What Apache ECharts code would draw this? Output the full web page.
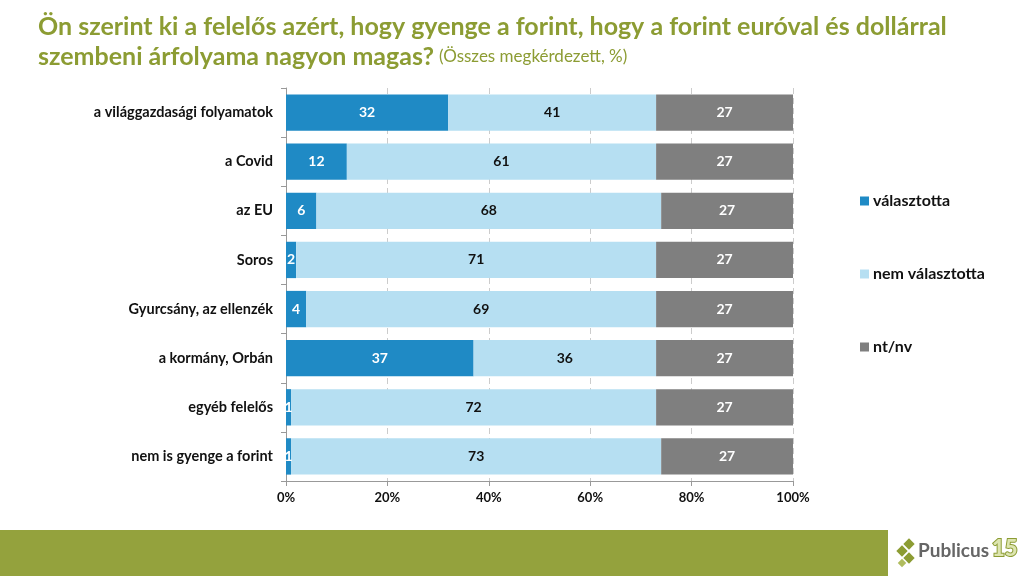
<!DOCTYPE html>
<html><head><meta charset="utf-8">
<script src="https://cdn.jsdelivr.net/npm/echarts@6/dist/echarts.min.js"></script>
<style>html,body{margin:0;padding:0;background:#fff}#c{width:1024px;height:576px}</style>
</head><body><div id="c"></div>
<script>
const categories = ['a világgazdasági folyamatok','a Covid','az EU','Soros','Gyurcsány, az ellenzék','a kormány, Orbán','egyéb felelős','nem is gyenge a forint'];
const valasztotta = [32,12,6,2,4,37,1,1];
const nemValasztotta = [41,61,68,71,69,36,72,73];
const ntnv = [27,27,27,27,27,27,27,27];
const xTicks = [0,20,40,60,80,100];
const seriesNames = ['választotta','nem választotta','nt/nv'];

const font = 'Lato, "Open Sans", sans-serif';
const chart = echarts.init(document.getElementById('c'));
function mk(name, data, color, labelColor){
  return {name, type:'bar', stack:'t', data, barCategoryGap:'26%',
    itemStyle:{color},
    label:{show:true, position:'inside', color:labelColor, fontWeight:'bold', fontSize:14, fontFamily:font},
    emphasis:{disabled:true}};
}
chart.setOption({
  animation:false,
  title:{left:33, top:7,
    text:'{a|Ön szerint ki a felelős azért, hogy gyenge a forint, hogy a forint euróval és dollárral}\n{a|szembeni árfolyama nagyon magas?} {b|(Összes megkérdezett, %)}',
    textStyle:{rich:{
      a:{fontSize:25, fontWeight:'bold', color:'#8C9C33', fontFamily:font, lineHeight:30},
      b:{fontSize:17, fontWeight:'normal', color:'#8C9C33', fontFamily:font, lineHeight:30}
    }}},
  legend:{orient:'vertical', left:855, top:188, itemGap:57, itemWidth:9, itemHeight:9,
    icon:'rect', data:seriesNames,
    textStyle:{fontSize:16, fontWeight:'bold', color:'#111', fontFamily:font, padding:[0,0,0,-1]}},
  grid:{left:286, right:231, top:88, bottom:95},
  xAxis:{type:'value', min:0, max:100, interval:20,
    axisLabel:{formatter:v=>xTicks.includes(v)?v+'%':'', fontWeight:'bold', fontSize:13, color:'#111', fontFamily:font, margin:10},
    axisLine:{show:true, lineStyle:{color:'#999'}},
    axisTick:{show:true, lineStyle:{color:'#999'}},
    splitLine:{show:true, lineStyle:{color:'#ccc', type:[6,4]}}},
  yAxis:{type:'category', data:categories, inverse:true,
    axisLabel:{fontWeight:'bold', fontSize:14.5, color:'#111', fontFamily:font, margin:13},
    axisLine:{show:true, lineStyle:{color:'#999'}},
    axisTick:{show:true, lineStyle:{color:'#999'}}},
  series:[
    mk(seriesNames[0], valasztotta, '#1F8AC5', '#fff'),
    mk(seriesNames[1], nemValasztotta, '#B6DFF2', '#111'),
    mk(seriesNames[2], ntnv, '#7F7F7F', '#fff')
  ],
  graphic:[
    {type:'rect', shape:{x:0, y:530, width:888, height:46}, style:{fill:'#94A23D'}},
    {type:'rect', shape:{x:-4, y:-4, width:8, height:8}, rotation:Math.PI/4, x:902, y:551, style:{fill:'#8C9C33'}},
    {type:'rect', shape:{x:-4, y:-4, width:8, height:8}, rotation:Math.PI/4, x:909, y:544, style:{fill:'#8C9C33'}},
    {type:'rect', shape:{x:-4, y:-4, width:8, height:8}, rotation:Math.PI/4, x:909, y:558, style:{fill:'#8C9C33'}},
    {type:'rect', shape:{x:-3, y:-3, width:6, height:6}, rotation:Math.PI/4, x:902, y:563, style:{fill:'#B0BC5E'}},
    {type:'text', x:918, y:541, style:{text:'Publicus', fontSize:19, fontWeight:'bold', fill:'#666', fontFamily:font}},
    {type:'text', x:992, y:538, style:{text:'15', fontSize:22, fontWeight:900, fill:'#DDE5B0', stroke:'#8C9C33', lineWidth:2, fontFamily:font}}
  ]
});
</script></body></html>
